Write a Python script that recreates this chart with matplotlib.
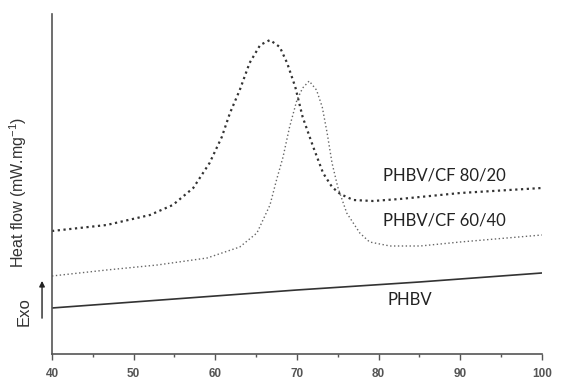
import matplotlib
matplotlib.use("Agg")
from matplotlib import pyplot as plt

# temperature (deg C) and heat flow (arbitrary units)
t_8020 = [40.0, 46.7, 52.0, 54.8, 57.3, 59.3, 60.8, 61.8, 63.0, 64.2, 65.5, 66.7,
          67.9, 68.8, 69.8, 70.7, 72.0, 73.2, 74.3, 75.3, 76.9, 79.3, 82.6, 90.0, 100.0]
hf_8020 = [123, 129, 139, 149, 166, 191, 217, 241, 264, 291, 309, 314,
           307, 291, 267, 237, 207, 181, 167, 160, 154, 153, 155, 161, 166]

t_6040 = [40.0, 46.7, 52.9, 59.0, 63.0, 65.1, 66.7, 67.5, 68.3, 69.1, 70.0, 70.7, 71.5,
          72.4, 73.1, 73.7, 74.3, 75.0, 76.1, 77.7, 78.9, 81.4, 85.1, 90.0, 100.0]
hf_6040 = [78, 84, 89, 96, 107, 121, 149, 174, 197, 227, 254, 266, 273,
           264, 247, 221, 191, 167, 141, 121, 112, 108, 108, 112, 119]

t_phbv = [40.0, 55.0, 70.0, 85.0, 100.0]
hf_phbv = [46, 55, 64, 72, 81]

labels = ["PHBV/CF 80/20", "PHBV/CF 60/40", "PHBV"]

fig = plt.figure(figsize=(5.68, 3.89), dpi=100)
fig.set_facecolor("w")
ax = fig.add_axes([0.0915, 0.09, 0.8625, 0.874])

ax.plot(t_8020, hf_8020, color="#333333", lw=1.6, ls=(0, (1, 1.6)))
ax.plot(t_6040, hf_6040, color="#666666", lw=1.0, ls=(0, (1, 1.8)))
ax.plot(t_phbv, hf_phbv, color="#333333", lw=1.2)

ax.set_xlim(40, 100)
ax.set_ylim(0, 340)
ax.set_xticks(range(40, 101, 10))
ax.set_xticks(range(45, 100, 10), minor=True)
ax.set_yticks([])
for s in ["top", "right"]:
    ax.spines[s].set_visible(False)
for s in ["left", "bottom"]:
    ax.spines[s].set_color("#555555")
    ax.spines[s].set_linewidth(1.2)
ax.tick_params(axis="x", which="major", direction="out", length=4, width=1.0,
               color="#555555", labelsize=8.5, labelcolor="#555555", pad=6)
ax.tick_params(axis="x", which="minor", direction="out", length=2.5, width=1.0, color="#555555")
for lb in ax.get_xticklabels():
    lb.set_fontfamily("Liberation Sans")
    lb.set_fontweight("bold")

lab_font = dict(family="Lato", fontsize=12, color="#222222", va="center")
ax.text(80.5, 178, labels[0], **lab_font)
ax.text(80.5, 133, labels[1], **lab_font)
ax.text(81.1, 54, labels[2], **lab_font)

fig.text(0.032, 0.505, "Heat flow (mW.mg$^{\\mathregular{-1}}$)", rotation=90, ha="center", va="center",
         family="Liberation Sans", fontsize=11.5, color="#333333")
fig.text(0.042, 0.2, "Exo", rotation=90, ha="center", va="center",
         family="Liberation Sans", fontsize=12, color="#333333")
fig.patches.append(matplotlib.patches.FancyArrowPatch(
    (0.074, 0.175), (0.074, 0.285), transform=fig.transFigure,
    arrowstyle="-|>", mutation_scale=8, color="#222222", lw=1.0))

fig.savefig("out.png", dpi=100)
